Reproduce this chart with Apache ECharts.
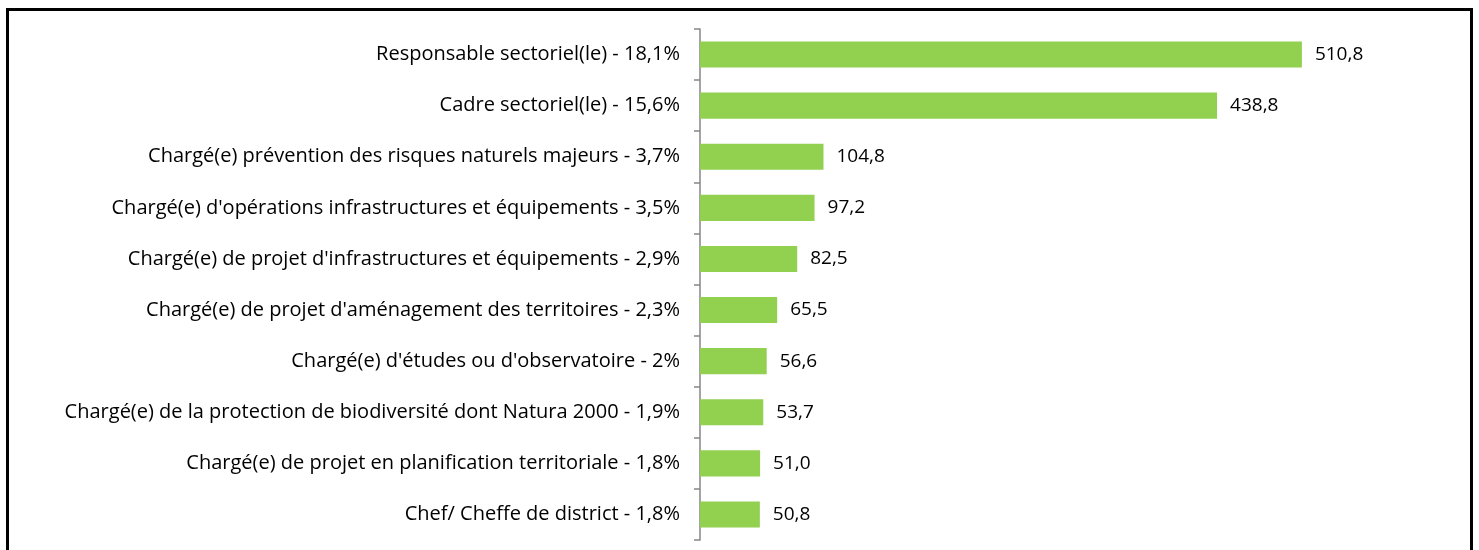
<!DOCTYPE html>
<html>
<head>
<meta charset="utf-8">
<script src="https://cdn.jsdelivr.net/npm/echarts@6/dist/echarts.min.js"></script>
<style>
  html, body { margin: 0; padding: 0; background: #fff; }
  #chart { width: 1479px; height: 550px; }
</style>
</head>
<body>
<div id="chart"></div>
<script>
// métiers et pourcentages, du haut vers le bas
const categories = [
  'Responsable sectoriel(le) - 18,1%',
  'Cadre sectoriel(le) - 15,6%',
  'Chargé(e) prévention des risques naturels majeurs - 3,7%',
  "Chargé(e) d'opérations infrastructures et équipements - 3,5%",
  "Chargé(e) de projet d'infrastructures et équipements - 2,9%",
  "Chargé(e) de projet d'aménagement des territoires - 2,3%",
  "Chargé(e) d'études ou d'observatoire - 2%",
  'Chargé(e) de la protection de biodiversité dont Natura 2000 - 1,9%',
  'Chargé(e) de projet en planification territoriale - 1,8%',
  'Chef/ Cheffe de district - 1,8%'
]
const values = [510.8, 438.8, 104.8, 97.2, 82.5, 65.5, 56.6, 53.7, 51.0, 50.8]

const chart = echarts.init(document.getElementById('chart'))
chart.setOption({
  animation: false,
  textStyle: { fontFamily: 'Open Sans' },
  graphic: [
    {
      type: 'rect',
      shape: { x: 7.5, y: 9.5, width: 1464, height: 560 },
      style: { fill: 'none', stroke: '#000', lineWidth: 3 },
      silent: true
    }
  ],
  grid: {
    left: 700,
    top: 29,
    height: 511,
    right: 72,
    containLabel: false
  },
  xAxis: {
    type: 'value',
    min: 0,
    max: 600,
    show: false,
    splitLine: { show: false }
  },
  yAxis: {
    type: 'category',
    inverse: true,
    data: categories,
    axisLine: { show: true, lineStyle: { color: '#868686', width: 1.5 } },
    axisTick: { show: true, length: 6, lineStyle: { color: '#868686', width: 1.5 } },
    axisLabel: { color: '#000', fontSize: 20, margin: 20 }
  },
  series: [
    {
      type: 'bar',
      data: values,
      barWidth: '51%',
      itemStyle: { color: '#92D050' },
      label: {
        show: true,
        position: 'right',
        distance: 13,
        color: '#000',
        fontSize: 19,
        formatter: p => p.value.toFixed(1).replace('.', ',')
      }
    }
  ]
})
</script>
</body>
</html>
